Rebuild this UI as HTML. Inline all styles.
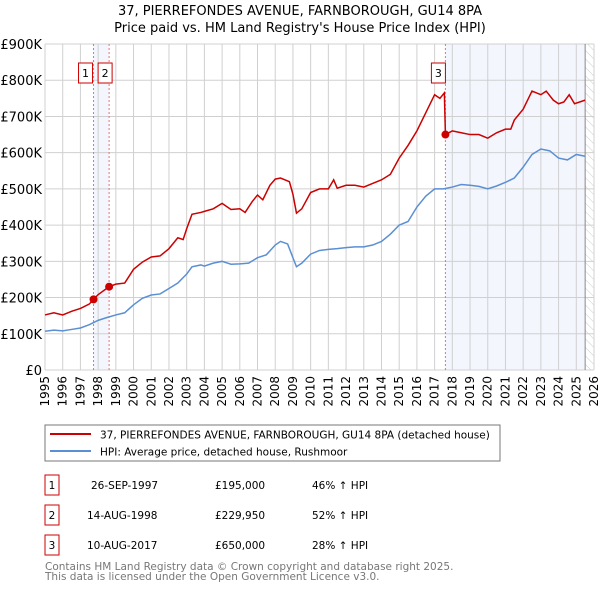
<!DOCTYPE html>
<html><head><meta charset="utf-8"><style>
body{margin:0;background:#fff;font-family:"DejaVu Sans","Liberation Sans",sans-serif;}
svg text{font-family:"DejaVu Sans","Liberation Sans",sans-serif;}
</style></head><body>
<svg id="c" width="600" height="590" viewBox="0 0 600 590" xmlns="http://www.w3.org/2000/svg">
<defs><pattern id="hatch" width="6" height="6" patternUnits="userSpaceOnUse" patternTransform="rotate(-45)"><line x1="0" y1="0" x2="0" y2="6" stroke="#ccc" stroke-width="1"/></pattern></defs>
<text x="300" y="15" text-anchor="middle" font-size="13">37, PIERREFONDES AVENUE, FARNBOROUGH, GU14 8PA</text>
<text x="300" y="32" text-anchor="middle" font-size="13">Price paid vs. HM Land Registry's House Price Index (HPI)</text>
<g id="plot"></g>
<rect x="45" y="425" width="455" height="36" fill="#fff" stroke="#777"/>
<line x1="50" y1="434" x2="91" y2="434" stroke="#cc0000" stroke-width="2"/>
<text x="100" y="438.5" font-size="10.5">37, PIERREFONDES AVENUE, FARNBOROUGH, GU14 8PA (detached house)</text>
<line x1="50" y1="451" x2="91" y2="451" stroke="#5b8fd4" stroke-width="2"/>
<text x="100" y="455.5" font-size="10.5">HPI: Average price, detached house, Rushmoor</text>
<g font-size="10.5">
<rect x="45" y="475" width="14" height="20" fill="#fff" stroke="#cc0000"/><text x="52" y="489" text-anchor="middle">1</text>
<text x="91" y="489">26-SEP-1997</text><text x="215" y="489">£195,000</text><text x="312" y="489">46% ↑ HPI</text>
<rect x="45" y="505" width="14" height="20" fill="#fff" stroke="#cc0000"/><text x="52" y="519" text-anchor="middle">2</text>
<text x="87" y="519">14-AUG-1998</text><text x="215" y="519">£229,950</text><text x="312" y="519">52% ↑ HPI</text>
<rect x="45" y="535" width="14" height="20" fill="#fff" stroke="#cc0000"/><text x="52" y="549" text-anchor="middle">3</text>
<text x="87" y="549">10-AUG-2017</text><text x="215" y="549">£650,000</text><text x="312" y="549">28% ↑ HPI</text>
</g>
<text x="45" y="570" font-size="10.5" fill="#777">Contains HM Land Registry data © Crown copyright and database right 2025.</text>
<text x="45" y="580" font-size="10.5" fill="#777">This data is licensed under the Open Government Licence v3.0.</text>
</svg>
<script>
const yTicks=[0,100,200,300,400,500,600,700,800,900];
const yLabels=["£0","£100K","£200K","£300K","£400K","£500K","£600K","£700K","£800K","£900K"];
const xYears=[1995,1996,1997,1998,1999,2000,2001,2002,2003,2004,2005,2006,2007,2008,2009,2010,2011,2012,2013,2014,2015,2016,2017,2018,2019,2020,2021,2022,2023,2024,2025,2026];
const hpiT=[1995,1995.5,1996,1996.5,1997,1997.5,1998,1998.5,1999,1999.5,2000,2000.5,2001,2001.5,2002,2002.5,2003,2003.3,2003.8,2004,2004.5,2005,2005.5,2006,2006.5,2007,2007.5,2008,2008.3,2008.7,2009,2009.2,2009.5,2010,2010.5,2011,2011.5,2012,2012.5,2013,2013.5,2014,2014.5,2015,2015.5,2016,2016.5,2017,2017.5,2018,2018.5,2019,2019.5,2020,2020.5,2021,2021.5,2022,2022.5,2023,2023.5,2024,2024.5,2025,2025.5];
const hpiV=[107,110,108,112,116,125,137,145,152,158,180,198,207,210,225,240,265,285,290,287,295,300,292,293,295,310,318,345,355,348,310,285,295,320,330,333,335,338,340,340,345,355,375,400,410,450,480,500,500,505,512,510,507,500,508,518,530,560,595,610,605,585,580,595,590];
const propT=[1995,1995.5,1996,1996.5,1997,1997.5,1997.74,1998,1998.62,1999,1999.5,2000,2000.5,2001,2001.5,2002,2002.5,2002.8,2003,2003.3,2003.8,2004,2004.5,2005,2005.5,2006,2006.3,2006.7,2007,2007.3,2007.7,2008,2008.3,2008.8,2009,2009.2,2009.5,2010,2010.5,2011,2011.3,2011.5,2012,2012.5,2013,2013.5,2014,2014.5,2015,2015.5,2016,2016.5,2017,2017.3,2017.55,2017.61,2018,2018.5,2019,2019.5,2020,2020.5,2021,2021.3,2021.5,2022,2022.5,2023,2023.3,2023.7,2024,2024.3,2024.6,2024.9,2025.5];
const propV=[152,158,152,162,170,182,195,208,230,237,240,278,298,312,315,335,365,360,390,430,435,438,445,460,443,445,435,465,483,470,510,527,530,520,485,433,445,490,500,500,525,502,510,510,505,515,525,540,585,620,660,710,760,750,765,650,660,655,650,650,640,655,665,665,690,720,770,760,770,745,735,740,760,735,745];
const saleT=[1997.74,1998.62,2017.61];
const saleV=[195,229.95,650];
const saleLbl=["1","2","3"];
const X0=45,X1=594,Y0=370,Y1=44;
const xs=t=>X0+(t-1995)/(2026-1995)*(X1-X0);
const ys=v=>Y0-(v/900)*(Y0-Y1);
const NS="http://www.w3.org/2000/svg";
const g=document.getElementById('plot');
function mk(tag,a){const e=document.createElementNS(NS,tag);for(const k in a)e.setAttribute(k,a[k]);g.appendChild(e);return e;}
let e;
e=mk('rect',{x:X0,y:Y1,width:X1-X0,height:Y0-Y1,fill:'#fff'});


e=mk('rect',{x:xs(saleT[0]),y:Y1,width:xs(saleT[1])-xs(saleT[0]),height:Y0-Y1,fill:'#f3f6fd'});


e=mk('rect',{x:xs(saleT[2]),y:Y1,width:xs(2025.5)-xs(saleT[2]),height:Y0-Y1,fill:'#f3f6fd'});


e=mk('rect',{x:xs(2025.5),y:Y1,width:X1-xs(2025.5),height:Y0-Y1,fill:'url(#hatch)'});


xYears.forEach(y=>{e=mk('line',{x1:xs(y),x2:xs(y),y1:Y1,y2:Y0,stroke:'#d0d0d0','stroke-width':1});


e=mk('text',{x:0,y:0,'font-size':12,'text-anchor':'end',transform:`translate(${xs(y)+4},${Y0+6}) rotate(-90)`});e.textContent=y;

});
yTicks.forEach((v,i)=>{e=mk('line',{x1:X0,x2:X1,y1:ys(v),y2:ys(v),stroke:'#d0d0d0','stroke-width':1});


e=mk('text',{x:X0-3,y:ys(v)+5,'font-size':13,'text-anchor':'end'});e.textContent=yLabels[i];

});
e=mk('line',{x1:xs(2025.5),x2:xs(2025.5),y1:Y1,y2:Y0,stroke:'#888'});


saleT.forEach(t=>{e=mk('line',{x1:xs(t),x2:xs(t),y1:Y1,y2:Y0,stroke:'#f07070','stroke-dasharray':'2,2','stroke-width':1});

});
e=mk('polyline',{points:hpiT.map((t,i)=>xs(t)+','+ys(hpiV[i])).join(' '),fill:'none',stroke:'#5b8fd4','stroke-width':1.5});


e=mk('polyline',{points:propT.map((t,i)=>xs(t)+','+ys(propV[i])).join(' '),fill:'none',stroke:'#cc0000','stroke-width':1.5});


saleT.forEach((t,i)=>{e=mk('circle',{cx:xs(t),cy:ys(saleV[i]),r:4,fill:'#cc0000'});


const bx=i==0?xs(t)-8:(i==1?xs(t)-4:xs(t)-7);
e=mk('rect',{x:bx-7,y:63,width:14,height:20,fill:'#fff',stroke:'#cc0000'});


e=mk('text',{x:bx,y:77,'font-size':11,'text-anchor':'middle'});e.textContent=saleLbl[i];

});
</script>
</body></html>
